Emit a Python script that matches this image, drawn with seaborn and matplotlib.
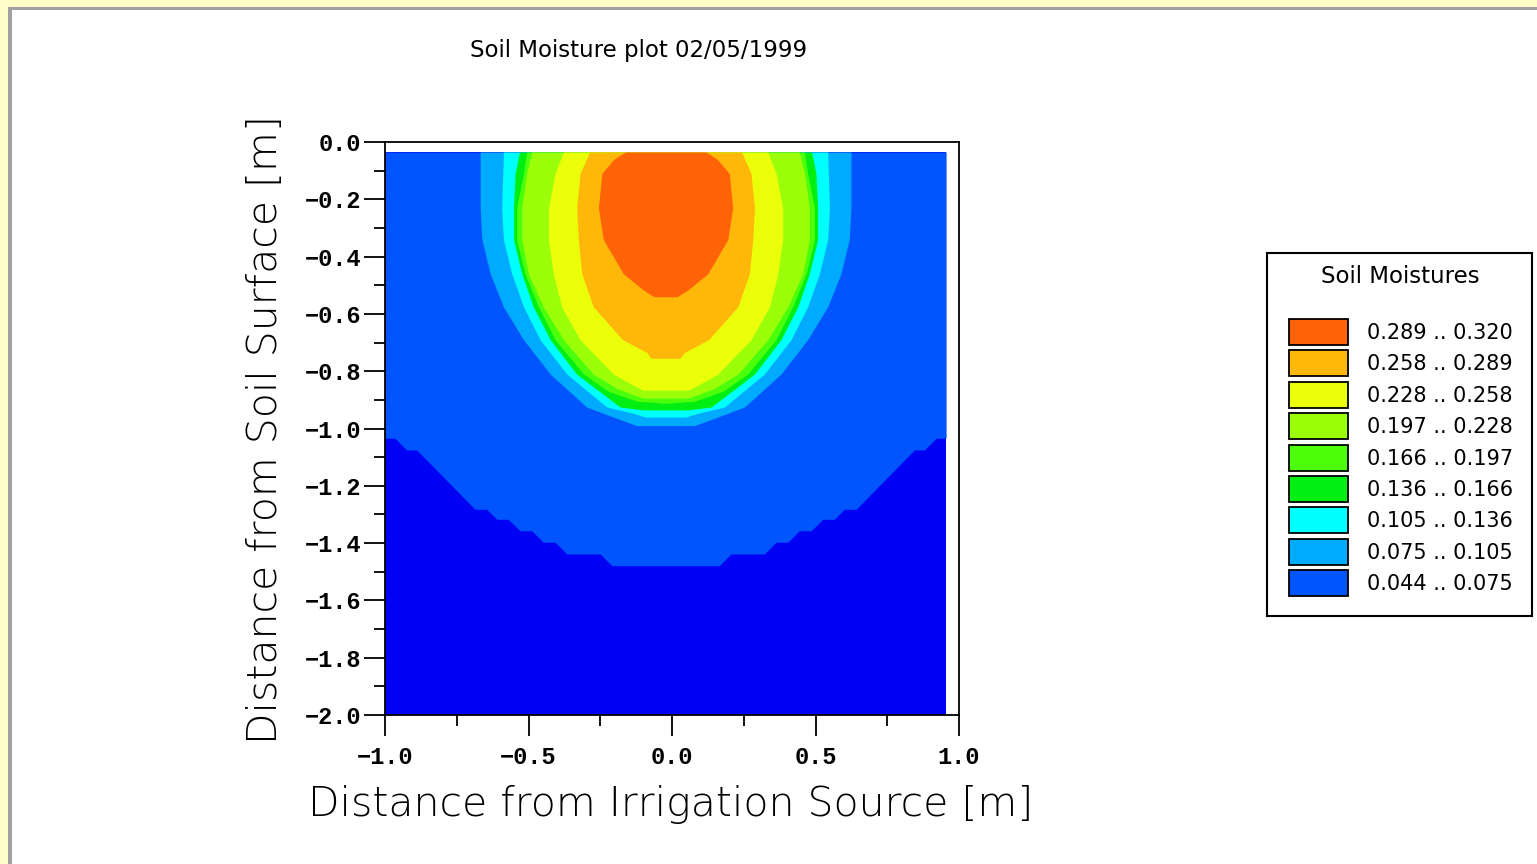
import numpy as np
import matplotlib
matplotlib.use("Agg")
import matplotlib.pyplot as plt
from matplotlib.patches import Rectangle
import seaborn as sns

# ---- data ----
title = "Soil Moisture plot 02/05/1999"
legend_title = "Soil Moistures"
level_bounds = [0.044, 0.075, 0.105, 0.136, 0.166, 0.197, 0.228, 0.258, 0.289, 0.320]
level_colors = ['#0055FF', '#00AAFF', '#00FFFF', '#00EE11', '#4CFF0A',
                '#9CFF0A', '#EBFF0A', '#FFB80A', '#FF6308']
below_color = '#0000F5'

# model domain [m] and position of the irrigation source
domain_x = [-1.0, 0.955]
domain_depth = [-2.0, -0.035]
source_x = -0.0225

# each level: depth [m] and half width [m] of the region wetter than the level
depth_044 = [-0.035, -1.034, -1.034, -1.075, -1.075, -1.282, -1.282, -1.317, -1.317,
             -1.357, -1.357, -1.397, -1.397, -1.438, -1.438, -1.479, -1.479]
hw_044 = [1.0, 1.0, 0.943, 0.902, 0.867, 0.664, 0.623, 0.588, 0.548,
          0.507, 0.466, 0.426, 0.385, 0.344, 0.228, 0.187, 0.0]
depth_075 = [-0.035, -0.11, -0.23, -0.34, -0.46, -0.575, -0.69, -0.81, -0.925, -0.96, -0.99, -0.99]
hw_075 = [0.646, 0.646, 0.646, 0.640, 0.611, 0.565, 0.495, 0.402, 0.275, 0.182, 0.10, 0.0]
depth_105 = [-0.035, -0.11, -0.23, -0.34, -0.46, -0.575, -0.69, -0.81, -0.925, -0.947, -0.96, -0.96]
hw_105 = [0.565, 0.567, 0.571, 0.565, 0.536, 0.495, 0.437, 0.344, 0.205, 0.113, 0.07, 0.0]
depth_136 = [-0.035, -0.11, -0.23, -0.34, -0.46, -0.575, -0.69, -0.81, -0.925, -0.935, -0.935]
hw_136 = [0.509, 0.524, 0.530, 0.530, 0.501, 0.461, 0.402, 0.310, 0.159, 0.08, 0.0]
depth_166 = [-0.035, -0.11, -0.23, -0.34, -0.46, -0.575, -0.69, -0.81, -0.87, -0.905, -0.912]
hw_166 = [0.484, 0.495, 0.519, 0.519, 0.490, 0.443, 0.385, 0.286, 0.20, 0.10, 0.0]
depth_197 = [-0.035, -0.11, -0.23, -0.34, -0.46, -0.575, -0.69, -0.81, -0.86, -0.894, -0.894]
hw_197 = [0.466, 0.484, 0.501, 0.501, 0.478, 0.426, 0.356, 0.252, 0.17, 0.08, 0.0]
depth_228 = [-0.035, -0.11, -0.23, -0.34, -0.46, -0.575, -0.69, -0.81, -0.845, -0.866, -0.866]
hw_228 = [0.356, 0.385, 0.408, 0.408, 0.391, 0.362, 0.298, 0.182, 0.12, 0.08, 0.0]
depth_258 = [-0.035, -0.11, -0.23, -0.34, -0.46, -0.575, -0.69, -0.735, -0.755, -0.755]
hw_258 = [0.265, 0.298, 0.310, 0.304, 0.292, 0.252, 0.15, 0.065, 0.05, 0.0]
depth_289 = [-0.035, -0.06, -0.11, -0.23, -0.34, -0.46, -0.517, -0.54, -0.54]
hw_289 = [0.141, 0.18, 0.222, 0.234, 0.217, 0.147, 0.077, 0.04, 0.0]

level_depths = [depth_044, depth_075, depth_105, depth_136, depth_166,
                depth_197, depth_228, depth_258, depth_289]
level_widths = [hw_044, hw_075, hw_105, hw_136, hw_166,
                hw_197, hw_228, hw_258, hw_289]

xticks = [-1.0, -0.5, 0.0, 0.5, 1.0]
xtick_labels = ['\u22121.0', '\u22120.5', '0.0', '0.5', '1.0']
yticks = [0.0, -0.2, -0.4, -0.6, -0.8, -1.0, -1.2, -1.4, -1.6, -1.8, -2.0]
ytick_labels = ['0.0', '\u22120.2', '\u22120.4', '\u22120.6', '\u22120.8', '\u22121.0',
                '\u22121.2', '\u22121.4', '\u22121.6', '\u22121.8', '\u22122.0']
xlabel = "Distance from Irrigation Source [m]"
ylabel = "Distance from Soil Surface [m]"

# ---- figure ----
sns.set_theme(style="white")
plt.rcParams['font.family'] = ['DejaVu Sans']

W, H = 1537, 864
fig = plt.figure(figsize=(W / 100, H / 100), dpi=100)
fig.patch.set_facecolor('white')


def fx(px):
    return px / W


def fy(py):
    return 1 - py / H


# window frame (yellow + grey)
fig.add_artist(Rectangle((0, 0), fx(8), 1, transform=fig.transFigure, color='#FFFEC8', lw=0))
fig.add_artist(Rectangle((0, fy(7)), 1, 7 / H, transform=fig.transFigure, color='#FFFEC8', lw=0))
fig.add_artist(Rectangle((fx(8), 0), 4 / W, fy(7), transform=fig.transFigure, color='#A0A0A0', lw=0))
fig.add_artist(Rectangle((fx(8), fy(10)), 1, 3 / H, transform=fig.transFigure, color='#A0A0A0', lw=0))

ax = fig.add_axes([fx(385), fy(715), (959 - 385) / W, (715 - 142) / H])
ax.set_facecolor('white')

palette = sns.color_palette(level_colors)
ax.fill_betweenx(domain_depth, domain_x[0], domain_x[1], color=below_color, lw=0)
for d, hw, col in zip(level_depths, level_widths, palette):
    hw = np.array(hw)
    left = np.clip(source_x - hw, domain_x[0], domain_x[1])
    right = np.clip(source_x + hw, domain_x[0], domain_x[1])
    ax.fill_betweenx(d, left, right, color=col, lw=0)

ax.set_xlim(-1, 1)
ax.set_ylim(-2, 0)
ax.set_xticks(xticks)
ax.set_xticklabels(xtick_labels)
ax.set_yticks(yticks)
ax.set_yticklabels(ytick_labels)
ax.set_xticks(np.arange(-1, 1.01, 0.25), minor=True)
ax.set_yticks(np.arange(-2, 0.01, 0.1), minor=True)
ax.grid(False)
for s in ax.spines.values():
    s.set_color('black')
    s.set_linewidth(1.3)
ax.tick_params(which='major', direction='out', length=15, width=1.3, color='black',
               bottom=True, left=True)
ax.tick_params(which='minor', direction='out', length=8, width=1.3, color='black',
               bottom=True, left=True)
for lab in ax.get_xticklabels() + ax.get_yticklabels():
    lab.set_fontfamily('Liberation Mono')
    lab.set_fontweight('bold')
    lab.set_fontsize(17)
    lab.set_color('black')
ax.tick_params(axis='x', pad=7)
ax.tick_params(axis='y', pad=2)

fig.text(fx(671), fy(805), xlabel, ha='center', va='center', fontsize=29.5,
         fontweight='light', color='black')
fig.text(fx(265), fy(430), ylabel, ha='center', va='center', fontsize=29.5,
         fontweight='light', rotation=90, color='black')
fig.text(fx(639), fy(50), title, ha='center', va='center', fontsize=16.5, color='black')

# legend box
lax = fig.add_axes([fx(1267), fy(616), (1532 - 1267) / W, (616 - 253) / H])
lax.set_xlim(0, 265)
lax.set_ylim(363, 0)
lax.set_xticks([])
lax.set_yticks([])
lax.set_facecolor('white')
for s in lax.spines.values():
    s.set_color('black')
    s.set_linewidth(1.5)
lax.text(133, 24, legend_title, ha='center', va='center', fontsize=16.5, color='black')
n = len(level_colors)
for i in range(n):
    k = n - 1 - i
    y0 = 66 + 31.4 * i
    lax.add_patch(Rectangle((22, y0), 59, 26, facecolor=palette[k], edgecolor='black', lw=1.3))
    lax.text(100, y0 + 14, f"{level_bounds[k]:.3f} .. {level_bounds[k + 1]:.3f}",
             ha='left', va='center', fontsize=15, color='black')

fig.savefig('out.png', dpi=100)
